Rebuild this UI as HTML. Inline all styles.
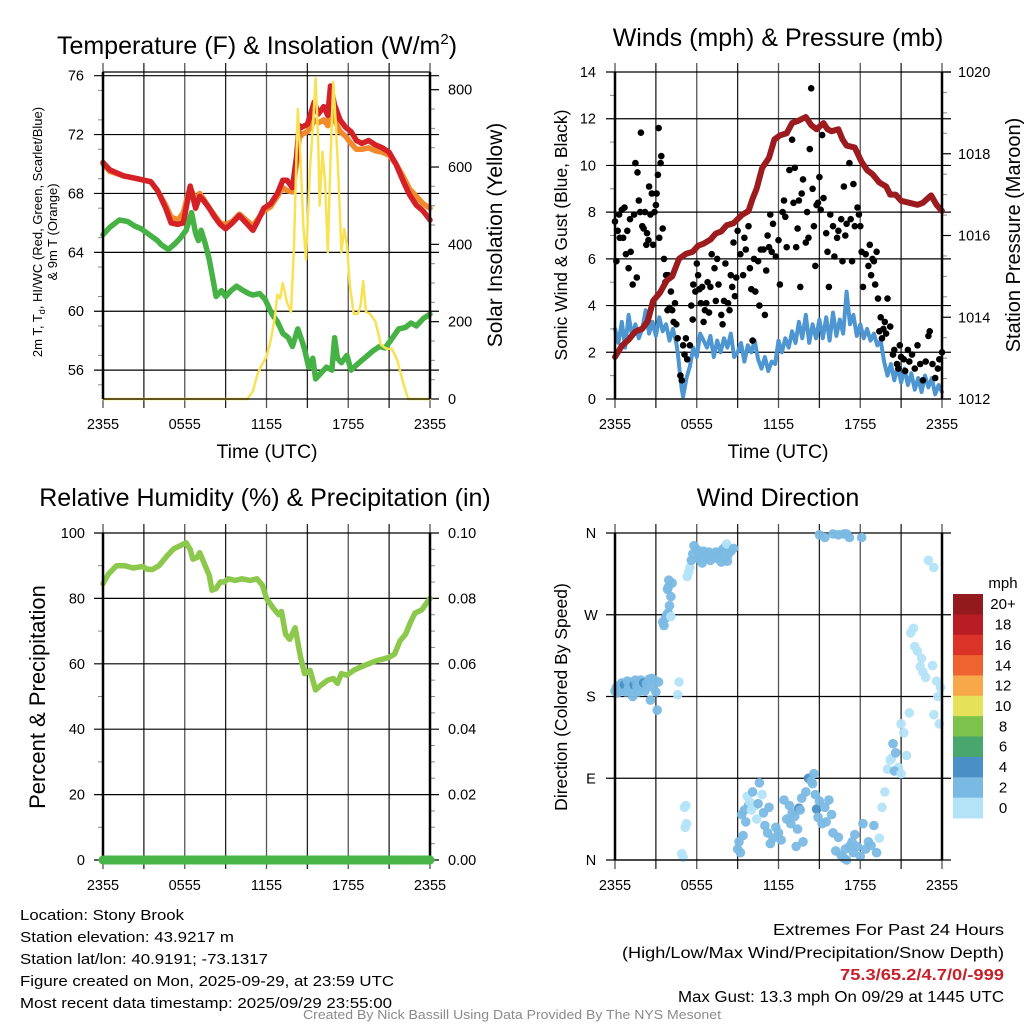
<!DOCTYPE html>
<html><head><meta charset="utf-8"><style>
html,body{margin:0;padding:0;background:#fff;}
svg{display:block;font-family:"Liberation Sans",sans-serif;}
</style></head><body>
<svg id="fig" width="1024" height="1024" viewBox="0 0 1024 1024" xmlns="http://www.w3.org/2000/svg">
<rect width="1024" height="1024" fill="#fff"/>
</svg>
<script>
// ---------- DATA ----------
const timeTickLabels = ["2355","0555","1155","1755","2355"];
const tempTicks = [56,60,64,68,72,76];
const solarTicks = [0,200,400,600,800];
const windTicks = [0,2,4,6,8,10,12,14];
const pressTicks = [1012,1014,1016,1018,1020];
const rhTicks = [0,20,40,60,80,100];
const precipTicks = ["0.00","0.02","0.04","0.06","0.08","0.10"];
const dirTicks = ["N","E","S","W","N"];
const speedBins = ["0","2","4","6","8","10","12","14","16","18","20+"];
const speedColors = ["#b4e3f8","#7ab9e3","#4a8fc6","#49a66c","#7cc24b","#e6e15b","#f7a848","#ee6330","#db3327","#b81c25","#921a1c"];

const tempRed = [[0,70.1],[0.5,69.6],[1.5,69.2],[2.5,69.0],[3.5,68.8],[4.0,68.2],[4.6,67.0],[5.0,66.0],[5.5,65.9],[5.9,66.0],[6.2,67.5],[6.4,68.5],[6.8,67.0],[7.1,67.8],[7.4,67.5],[7.8,67.0],[8.2,66.4],[8.6,65.9],[9.0,65.6],[9.5,66.0],[10.0,66.5],[10.5,66.0],[11.0,65.5],[11.4,66.2],[11.8,67.0],[12.3,67.3],[12.8,68.0],[13.2,68.9],[13.5,68.9],[13.9,68.4],[14.2,70.5],[14.4,72.6],[14.6,72.5],[15.0,72.7],[15.3,73.6],[15.5,74.2],[15.8,73.4],[16.2,73.9],[16.5,73.3],[16.7,75.3],[17.0,74.0],[17.4,73.0],[17.8,72.5],[18.2,72.2],[18.6,71.6],[19.0,71.4],[19.5,71.6],[20.0,71.3],[20.5,71.1],[21.0,70.8],[21.5,70.0],[22.0,68.9],[22.5,67.9],[23.0,67.2],[23.5,66.8],[24,66.2]];
const tempOrange = [[0,70.0],[0.5,69.5],[1.5,69.2],[2.5,69.0],[3.5,68.8],[4.0,68.2],[4.6,67.2],[5.0,66.4],[5.5,66.2],[5.9,66.7],[6.2,67.8],[6.4,68.4],[6.8,67.6],[7.1,68.0],[7.4,67.6],[7.8,67.0],[8.2,66.5],[8.6,66.0],[9.0,65.9],[9.5,66.1],[10.0,66.6],[10.5,66.2],[11.0,65.8],[11.4,66.3],[11.8,66.8],[12.3,67.1],[12.8,67.8],[13.2,68.4],[13.5,68.2],[13.9,68.1],[14.2,70.0],[14.4,71.8],[14.6,72.0],[15.0,72.2],[15.3,72.6],[15.5,73.0],[15.8,72.8],[16.2,73.0],[16.5,72.6],[16.7,74.0],[17.0,73.0],[17.4,72.2],[17.8,71.9],[18.2,71.4],[18.6,71.0],[19.0,71.0],[19.5,71.1],[20.0,70.9],[20.5,70.8],[21.0,70.6],[21.5,70.0],[22.0,69.2],[22.5,68.3],[23.0,67.8],[23.5,67.3],[24,67.0]];
const dewGreen = [[0,65.2],[0.5,65.7],[1.2,66.2],[1.8,66.1],[2.3,65.8],[2.8,65.6],[3.4,65.2],[4.0,64.8],[4.3,64.5],[4.8,64.2],[5.3,64.6],[5.7,65.0],[6.1,65.5],[6.5,66.7],[6.8,65.3],[7.0,64.8],[7.2,65.5],[7.5,64.6],[7.8,63.5],[8.1,62.0],[8.3,61.0],[8.7,61.4],[9.0,61.0],[9.4,61.4],[9.8,61.7],[10.3,61.4],[10.7,61.2],[11.0,61.1],[11.5,61.2],[11.9,60.8],[12.4,59.8],[12.8,59.3],[13.2,58.5],[13.6,58.2],[13.9,57.6],[14.3,58.8],[14.6,58.0],[14.8,57.4],[15.1,56.2],[15.4,56.8],[15.6,55.4],[16.0,55.8],[16.4,56.2],[16.8,56.0],[17.0,58.2],[17.2,56.8],[17.5,56.5],[17.9,57.0],[18.2,56.0],[18.8,56.5],[19.3,56.9],[19.8,57.3],[20.3,57.6],[20.7,57.5],[21.1,58.0],[21.7,58.8],[22.2,58.9],[22.6,59.2],[23.0,59.0],[23.5,59.5],[24,59.8]];
const solar = [[0,0],[10.6,0],[11.0,20],[11.3,60],[11.6,85],[12.0,110],[12.3,150],[12.6,210],[12.8,270],[13.0,260],[13.2,300],[13.5,250],[13.8,225],[14.0,380],[14.3,750],[14.5,620],[14.7,450],[14.9,360],[15.2,600],[15.4,700],[15.6,830],[15.8,660],[15.9,500],[16.1,640],[16.3,560],[16.5,380],[16.7,620],[16.9,820],[17.1,700],[17.3,560],[17.5,380],[17.7,440],[17.9,400],[18.1,300],[18.4,220],[18.7,220],[18.9,240],[19.1,305],[19.3,225],[19.6,220],[20.0,200],[20.4,140],[20.8,130],[21.2,130],[21.6,100],[22.0,45],[22.4,0],[24,0]];

const pressure = [[0,1013.03],[0.5,1013.3],[1.0,1013.45],[1.5,1013.65],[2.0,1013.72],[2.4,1013.9],[2.8,1014.4],[3.3,1014.6],[3.8,1014.9],[4.2,1015.0],[4.7,1015.43],[5.2,1015.55],[5.7,1015.6],[6.1,1015.75],[6.5,1015.8],[7.0,1015.9],[7.4,1016.05],[7.8,1016.1],[8.2,1016.25],[8.7,1016.3],[9.3,1016.5],[9.8,1016.6],[10.1,1016.9],[10.4,1017.15],[10.8,1017.65],[11.3,1017.9],[11.7,1018.35],[12.1,1018.45],[12.6,1018.5],[13.0,1018.75],[13.4,1018.8],[14.0,1018.9],[14.4,1018.7],[14.8,1018.6],[15.3,1018.75],[15.6,1018.6],[15.9,1018.55],[16.4,1018.6],[16.7,1018.35],[17.0,1018.2],[17.6,1018.15],[18.1,1017.8],[18.5,1017.6],[18.9,1017.5],[19.4,1017.3],[19.9,1017.2],[20.2,1017.0],[20.6,1017.0],[21.0,1016.85],[21.6,1016.8],[22.2,1016.75],[22.6,1016.8],[23.2,1016.98],[23.6,1016.75],[24,1016.6]];
const windSpeed = [[0,3.0],[0.25,2.4],[0.5,3.3],[0.75,2.2],[1,3.6],[1.25,2.7],[1.5,3.2],[1.75,2.6],[2,3.0],[2.25,3.8],[2.5,2.8],[2.75,3.3],[3,2.7],[3.25,3.5],[3.5,2.9],[3.75,3.2],[4,2.5],[4.25,3.0],[4.5,2.4],[4.6,2.0],[4.75,1.2],[4.9,0.4],[5.0,0.1],[5.25,0.9],[5.5,1.4],[5.75,2.2],[6,1.8],[6.25,2.8],[6.5,2.5],[6.75,2.2],[7,2.7],[7.25,1.8],[7.5,2.5],[7.75,2.0],[8,2.6],[8.25,2.2],[8.5,2.8],[8.75,1.8],[9,2.0],[9.25,2.4],[9.5,1.6],[9.75,2.3],[10,2.0],[10.25,2.5],[10.5,1.7],[10.75,1.3],[11,1.8],[11.25,1.2],[11.5,1.6],[11.75,1.5],[12,2.5],[12.25,2.0],[12.5,2.6],[12.75,2.2],[13,2.9],[13.25,2.4],[13.5,3.3],[13.75,2.6],[14,3.6],[14.25,2.4],[14.5,3.2],[14.75,2.6],[15,3.4],[15.25,2.6],[15.5,3.5],[15.75,2.5],[16,3.7],[16.25,2.7],[16.5,3.4],[16.75,2.8],[17,4.6],[17.25,3.2],[17.5,3.6],[17.75,2.7],[18,3.2],[18.25,2.6],[18.5,3.0],[18.75,2.5],[19,2.8],[19.25,2.3],[19.5,2.5],[19.75,1.6],[20,1.0],[20.25,1.5],[20.5,0.8],[20.75,1.4],[21,0.7],[21.25,1.3],[21.5,0.6],[21.75,1.1],[22,0.4],[22.25,0.9],[22.5,0.3],[22.75,1.0],[23,0.5],[23.25,0.9],[23.5,0.2],[23.75,0.6],[24,0.3]];
const gusts = [[0,7.6],[0.1,5.9],[0.2,7.2],[0.3,7.9],[0.35,6.9],[0.5,8.1],[0.6,6.9],[0.7,8.2],[0.8,6.2],[0.9,7.2],[1.0,5.6],[1.1,7.7],[1.15,6.3],[1.3,4.9],[1.4,7.9],[1.5,10.1],[1.6,5.2],[1.65,9.7],[1.75,8.5],[1.85,8.0],[1.9,11.4],[2.0,7.4],[2.1,7.3],[2.2,8.0],[2.3,6.6],[2.35,7.1],[2.45,6.8],[2.5,9.1],[2.6,7.9],[2.7,8.8],[2.8,6.6],[2.9,8.0],[3.0,8.3],[3.05,8.8],[3.15,9.6],[3.2,11.6],[3.25,6.9],[3.35,10.1],[3.4,10.4],[3.5,7.3],[3.6,6.0],[3.7,5.0],[3.75,5.3],[3.85,3.8],[3.9,5.3],[4.0,3.9],[4.1,4.6],[4.2,3.8],[4.3,3.3],[4.4,4.1],[4.5,3.2],[4.6,2.6],[4.8,1.0],[4.9,0.8],[5.0,2.3],[5.1,1.9],[5.2,2.6],[5.3,1.7],[5.5,2.3],[5.6,4.0],[5.7,3.4],[5.75,4.9],[5.9,4.6],[6.0,5.8],[6.1,5.3],[6.2,4.7],[6.3,4.1],[6.4,4.8],[6.5,3.3],[6.6,3.8],[6.7,4.1],[6.8,5.0],[6.9,3.7],[7.0,4.8],[7.1,6.2],[7.3,5.6],[7.4,4.2],[7.5,6.0],[7.6,4.9],[7.8,3.6],[7.9,3.2],[8.0,4.2],[8.1,5.8],[8.3,4.1],[8.4,3.8],[8.5,5.3],[8.6,4.8],[8.7,6.7],[8.8,4.4],[8.9,5.2],[9.0,7.2],[9.2,6.2],[9.4,5.3],[9.5,6.9],[9.6,6.4],[9.8,7.4],[9.9,5.6],[10.0,4.7],[10.1,2.5],[10.2,6.0],[10.3,4.6],[10.5,5.9],[10.6,4.0],[10.7,6.4],[10.9,6.4],[11.0,3.6],[11.1,5.5],[11.2,7.0],[11.3,6.5],[11.4,7.9],[11.5,6.3],[11.6,7.5],[11.8,6.1],[12.0,6.8],[12.1,4.9],[12.3,8.0],[12.4,8.5],[12.5,7.8],[12.6,6.5],[12.8,9.8],[13.0,11.1],[13.1,8.4],[13.2,9.9],[13.3,6.5],[13.4,7.3],[13.5,8.5],[13.6,4.8],[13.7,8.8],[13.8,9.4],[14.0,6.7],[14.1,8.0],[14.2,6.9],[14.3,10.7],[14.4,13.3],[14.5,9.0],[14.6,7.4],[14.7,5.7],[14.8,8.3],[14.9,8.4],[15.0,9.5],[15.1,8.1],[15.2,11.3],[15.3,8.6],[15.5,7.1],[15.6,6.3],[15.7,4.8],[15.8,7.9],[16.0,7.4],[16.1,6.1],[16.3,6.9],[16.4,7.2],[16.6,7.7],[16.7,5.9],[16.8,9.1],[16.9,7.0],[17.0,7.5],[17.2,10.1],[17.3,7.7],[17.4,5.9],[17.5,9.2],[17.6,7.4],[17.8,8.2],[17.9,7.9],[18.0,7.4],[18.1,6.3],[18.2,4.8],[18.4,6.2],[18.6,5.7],[18.7,6.6],[18.8,5.3],[18.9,6.0],[19.0,5.9],[19.1,4.9],[19.2,6.3],[19.3,4.3],[19.4,2.9],[19.5,3.5],[19.6,2.6],[19.7,3.0],[19.8,3.3],[19.9,2.8],[20.0,4.3],[20.2,3.1],[20.4,1.9],[20.5,2.1],[20.7,1.5],[20.8,1.3],[20.9,2.3],[21.0,1.8],[21.2,1.7],[21.3,1.2],[21.5,2.1],[21.6,1.6],[21.8,1.9],[22.0,1.3],[22.2,2.3],[22.4,1.5],[22.6,0.8],[22.8,1.6],[23.0,2.7],[23.1,2.9],[23.3,1.5],[23.5,0.9],[23.7,1.3],[23.8,1.7],[24,2.0]];

const relHum = [[0,84.5],[0.4,87.5],[1.0,90],[1.6,90],[2.2,89.3],[2.9,89.8],[3.2,89],[3.6,88.8],[4.1,90],[4.7,93],[5.2,95.2],[5.6,96],[6.1,97],[6.4,95],[6.6,92],[6.9,92.5],[7.1,94],[7.5,90],[7.8,87],[8.0,82.5],[8.3,83],[8.6,85],[8.9,85],[9.2,86],[9.7,85.5],[10.2,86],[10.8,85.5],[11.3,86],[11.7,84],[12.0,80],[12.5,77],[12.9,75],[13.1,76],[13.4,69],[13.7,67.5],[14.1,71],[14.5,62],[14.8,57],[15.2,58],[15.6,52],[16.0,53.5],[16.5,55],[16.9,55.5],[17.2,54],[17.5,57],[17.9,56.5],[18.4,58],[18.9,59],[19.5,60],[20.1,61],[20.6,61.5],[21.0,62],[21.4,63],[21.8,67],[22.2,69],[22.6,73],[22.9,75.5],[23.4,76.5],[24,80]];
const precip = [[0,0],[24,0]];

const windDir = [[0,186,2],[0.1,190,3],[0.2,184,2],[0.3,192,3],[0.4,187,2],[0.5,195,3],[0.6,189,2],[0.7,193,4],[0.8,185,3],[0.9,197,2],[1.0,190,3],[1.1,188,2],[1.2,196,3],[1.3,180,2],[1.4,193,4],[1.5,198,2],[1.6,191,3],[1.7,185,2],[1.8,194,3],[1.9,198,2],[2.0,190,3],[2.1,195,4],[2.2,186,2],[2.3,194,3],[2.5,199,2],[2.6,176,3],[2.7,200,2],[2.8,190,3],[2.9,198,2],[3.0,185,2],[3.1,165,3],[3.2,196,2],[4.7,196,1],[4.6,182,1],
[3.5,262,2],[3.6,258,2],[3.7,266,2],[3.8,270,2],[3.9,272,2],[4.0,280,2],[4.1,268,1],[4.1,290,2],[3.9,300,2],[4.2,305,2],[3.85,298,2],[3.95,308,2],
[5.3,312,1],[5.4,317,1],[5.5,322,1],[5.6,330,2],[5.7,337,2],[5.8,346,2],[6.0,342,2],[6.1,332,2],[6.2,337,2],[6.4,327,2],[6.5,340,2],[6.6,332,2],[6.8,334,2],[6.9,339,2],[7.0,330,2],[7.2,336,2],[7.4,339,2],[7.5,332,2],[7.6,338,2],[7.8,328,2],[7.9,342,2],[8.0,333,2],[8.1,345,2],[8.3,336,2],[8.5,340,2],[8.2,348,1],[8.25,329,2],[8.7,343,2],
[5.1,58,1],[5.2,60,1],[5.15,36,1],[5.25,40,1],[4.9,7,1],[5.0,3,1],
[9.0,12,2],[9.1,20,2],[9.2,8,2],[9.3,50,2],[9.4,27,2],[9.5,55,2],[9.6,42,2],[9.7,70,1],[9.8,60,2],[9.9,64,1],[10.0,55,1],[10.1,75,2],[10.3,60,1],[10.4,45,1],[10.5,62,2],[10.6,85,2],[10.8,72,1],[10.9,52,2],[11.0,38,2],[11.2,30,2],[11.3,58,2],[11.4,18,2],[11.6,24,2],[11.8,36,2],[12.0,30,2],[12.2,22,2],[12.4,66,2],[12.6,45,2],[12.8,60,3],[12.9,40,2],[13.0,52,2],[13.2,48,2],[13.3,15,2],[13.4,34,2],[13.5,57,4],[13.6,55,2],[13.7,68,2],[13.8,20,2],[14.0,75,2],[14.2,90,4],[14.4,87,3],[14.5,84,3],[14.6,95,2],[14.7,72,3],[14.8,56,4],[14.9,47,2],[15.0,65,2],[15.2,40,3],[15.4,58,2],[15.5,42,2],[15.7,66,2],[15.9,50,3],[16.0,30,2],[16.2,10,2],[16.4,25,3],[16.6,5,2],[16.8,2,3],[16.9,12,2],[17.0,0,3],[17.2,15,2],[17.4,20,2],[17.5,8,2],[17.6,28,2],[17.8,15,2],[18.0,4,2],[18.2,40,2],[18.4,12,2],[18.6,20,2],[18.8,16,2],[19.0,38,2],[19.2,8,2],[19.4,24,1],[19.6,58,1],[19.8,75,1],[20.0,100,1],[20.2,110,1],[20.4,128,3],[20.3,112,1],[20.6,118,2],[20.8,102,1],[20.5,98,2],[21.0,95,1],[21.0,150,1],[21.2,140,1],[21.4,115,1],[21.6,162,1],[21.7,250,1],[21.9,255,1],[22.0,235,1],[22.2,230,1],[22.4,213,1],[22.5,222,1],[22.6,207,1],[22.8,201,1],[23.0,330,1],[23.4,322,1],[23.3,214,1],[23.6,197,1],[23.7,180,1],[23.8,150,1],[23.9,190,1],[23.4,160,1],
[15.0,358,2],[15.4,355,2],[16.0,359,3],[16.4,358,2],[16.8,359,3],[17.0,359,2],[17.2,355,3],[18.1,355,3]];

// ---------- DRAWING ----------
const NS = "http://www.w3.org/2000/svg";
const svg = document.getElementById("fig");
function mk(tag, attrs, parent){
  const e = document.createElementNS(NS, tag);
  for (const k in attrs) e.setAttribute(k, attrs[k]);
  (parent || svg).appendChild(e);
  return e;
}
function txt(s, x, y, size, anchor, parent, extra){
  const t = mk("text", Object.assign({x:x, y:y, "font-size":size, "text-anchor":anchor||"middle", fill:"#000"}, extra||{}), parent);
  t.textContent = s;
  return t;
}
function panel(name, xL, xR, yT, yB){
  const g = mk("g", {});
  
  
  return {g, xL, xR, yT, yB, sx: h => xL + h/24*(xR-xL)};
}
function frame(p){
  for (let i=0;i<=8;i++){
    const x = p.sx(i*3);
    const l = mk("line",{x1:x,x2:x,y1:p.yT-9,y2:p.yB+9,stroke:(i%2?"#222":"#555"),"stroke-width":1.3},p.g);
    
    
  }
  for (let i=0;i<timeTickLabels.length;i++){
    const t = txt(timeTickLabels[i], p.sx(i*6), p.yB+30, 14.5, "middle", p.g);
    
    
  }
}
function hgrid(p, y, ext){
  const l = mk("line",{x1:p.xL-ext,x2:p.xR+ext,y1:y,y2:y,stroke:"#000","stroke-width":1.2},p.g);
  
  
}
function minorL(p,y){ mk("line",{x1:p.xL-5,x2:p.xL,y1:y,y2:y,stroke:"#888","stroke-width":1},p.g); }
function minorR(p,y){ mk("line",{x1:p.xR,x2:p.xR+5,y1:y,y2:y,stroke:"#888","stroke-width":1},p.g); }
function border(p){
  mk("line",{x1:p.xL,x2:p.xL,y1:p.yT,y2:p.yB,stroke:"#000","stroke-width":2.5},p.g);
  mk("line",{x1:p.xR,x2:p.xR,y1:p.yT,y2:p.yB,stroke:"#000","stroke-width":2.5},p.g);
  mk("line",{x1:p.xL,x2:p.xR,y1:p.yB,y2:p.yB,stroke:"#000","stroke-width":1.3},p.g);
}
function path(p, data, fx, fy, color, w, name){
  const d = data.map((q,i)=>(i?"L":"M")+fx(q[0]).toFixed(1)+","+fy(q[1]).toFixed(1)).join("");
  const e = mk("path",{d:d,fill:"none",stroke:color,"stroke-width":w,"stroke-linejoin":"round","stroke-linecap":"round"},p.g);
  
  
  return e;
}
function rotTitle(s, x, y, size, name, parent){
  const t = txt(s, x, y, size, "middle", parent, {transform:"rotate(-90 "+x+" "+y+")"});
  
  
  return t;
}

// ===== Panel 1: Temperature =====
const p1 = panel("temperature-panel",103,430,72,399);
const ty = t => 75.7 - (t-76)*14.72;
const sy = w => 399 - w*(309.3/800);
frame(p1);
mk("line",{x1:p1.xL,x2:p1.xR,y1:72,y2:72,stroke:"#000","stroke-width":1.2},p1.g);
for (const t of tempTicks){
  hgrid(p1, ty(t), 9);
  const l = txt(String(t), 84, ty(t)+5, 14.5, "end", p1.g);
  
  
}
for (let t=55;t<=75;t+=2) minorL(p1, ty(t));
for (const w of solarTicks){
  mk("line",{x1:p1.xR,x2:p1.xR+9,y1:sy(w),y2:sy(w),stroke:"#000","stroke-width":1.2},p1.g);
  const l = txt(String(w), 448, sy(w)+5, 14.5, "start", p1.g);
  
  
}
for (let w=50;w<=800;w+=50) if (w%200) minorR(p1, sy(w));
path(p1, tempOrange, p1.sx, ty, "#f08a2c", 5.5, "temperature-9m-line");
path(p1, tempRed, p1.sx, ty, "#d42027", 5.5, "temperature-2m-line");
path(p1, dewGreen, p1.sx, ty, "#46b245", 5.5, "dewpoint-line");
path(p1, solar, p1.sx, sy, "#f8e253", 2.5, "solar-insolation-line");
border(p1);
{
  const t = txt("Temperature (F) & Insolation (W/m", 257, 54, 25, "middle", svg);
  const s = mk("tspan",{dy:-10,"font-size":15},t); s.textContent="2";
  const s2 = mk("tspan",{dy:10},t); s2.textContent=")";
  
  
}
{
  const t = mk("text",{x:42,y:232,"font-size":13,"text-anchor":"middle",transform:"rotate(-90 42 232)"});
  t.textContent = "2m T, T";
  const sub = mk("tspan",{dy:3,"font-size":9},t); sub.textContent="d";
  const r = mk("tspan",{dy:-3},t); r.textContent=", HI/WC (Red, Green, Scarlet/Blue)";
  
  
}
rotTitle("& 9m T (Orange)", 57, 232, 13, "temperature-axis-title-line2", svg);
rotTitle("Solar Insolation (Yellow)", 502, 235, 21, "solar-axis-title", svg);
{ const t = txt("Time (UTC)", 267, 458, 19.5, "middle");   }

// ===== Panel 2: Winds =====
const p2 = panel("winds-panel",615,942,72,399);
const wy = v => 399 - v*(327/14);
const py = m => 399 - (m-1012)*(327/8);
frame(p2);
for (const v of windTicks){
  hgrid(p2, wy(v), 9);
  const l = txt(String(v), 596, wy(v)+5, 14.5, "end", p2.g);
  
  
}
for (let v=1;v<14;v+=2) minorL(p2, wy(v));
for (const m of pressTicks){
  mk("line",{x1:p2.xR,x2:p2.xR+9,y1:py(m),y2:py(m),stroke:"#000","stroke-width":1.2},p2.g);
  const l = txt(String(m), 958, py(m)+5, 14.5, "start", p2.g);
  
  
}
for (let m=1012.5;m<1020;m+=0.5) if (m%2) minorR(p2, py(m));
path(p2, windSpeed, p2.sx, wy, "#4d96d2", 4, "sonic-wind-line");
for (const q of gusts){
  const c = mk("circle",{cx:p2.sx(q[0]).toFixed(1),cy:wy(q[1]).toFixed(1),r:3.3,fill:"#000"},p2.g);
  
  
}
path(p2, pressure, p2.sx, py, "#9b1b1f", 6, "pressure-line");
border(p2);
{ const t = txt("Winds (mph) & Pressure (mb)", 778, 46, 25, "middle");   }
rotTitle("Sonic Wind & Gust (Blue, Black)", 567, 235, 17.5, "wind-axis-title", svg);
rotTitle("Station Pressure (Maroon)", 1020, 235, 20, "pressure-axis-title", svg);
{ const t = txt("Time (UTC)", 778, 458, 19.5, "middle");   }

// ===== Panel 3: RH =====
const p3 = panel("humidity-panel",103,430,533,860);
const ry = r => 860 - r*3.27;
frame(p3);
for (let i=0;i<rhTicks.length;i++){
  const r = rhTicks[i];
  hgrid(p3, ry(r), 9);
  const l = txt(String(r), 85, ry(r)+5, 14.5, "end", p3.g);
  
  
  const l2 = txt(precipTicks[i], 448, ry(r)+5, 14.5, "start", p3.g);
  
  
}
for (let r=10;r<100;r+=20){ minorL(p3, ry(r)); }
for (let r=5;r<100;r+=5) if (r%20) minorR(p3, ry(r));
path(p3, relHum, p3.sx, ry, "#8cc84b", 5.5, "humidity-line");
border(p3);
path(p3, precip, p3.sx, v => ry(v*1000), "#48b448", 9, "precipitation-line");
{ const t = txt("Relative Humidity (%) & Precipitation (in)", 265, 506, 25, "middle");   }
rotTitle("Percent & Precipitation", 45, 697, 22, "humidity-axis-title", svg);

// ===== Panel 4: Wind direction =====
const p4 = panel("wind-direction-panel",615,942,533,860);
const dy = d => 860 - d*(327/360);
frame(p4);
for (let i=0;i<dirTicks.length;i++){
  const d = i*90;
  hgrid(p4, dy(d), 9);
  const l = txt(dirTicks[i], 591, dy(d)+5, 14.5, "middle", p4.g);
  
  
}
for (const q of windDir){
  const bin = Math.min(10, Math.floor(q[2]/2));
  const c = mk("circle",{cx:p4.sx(q[0]).toFixed(1),cy:dy(q[1]).toFixed(1),r:4.8,fill:speedColors[bin],"fill-opacity":0.95},p4.g);
  
  
}
border(p4);
{ const t = txt("Wind Direction", 778, 506, 25, "middle");   }
rotTitle("Direction (Colored By Speed)", 567, 697, 17.5, "direction-axis-title", svg);

// legend
const lg = mk("g",{});


txt("mph", 1003, 588, 15, "middle", lg);
const boxH = (818-594)/speedBins.length;
for (let i=0;i<speedBins.length;i++){
  const k = speedBins.length-1-i;
  const y = 594 + i*boxH;
  const r = mk("rect",{x:953,y:y.toFixed(1),width:30,height:(boxH+0.5).toFixed(1),fill:speedColors[k]},lg);
  
  
  const t = txt(speedBins[k], 1003, y+boxH/2+5, 15, "middle", lg);
  
  
}

// footer text
const ft = mk("g",{});


const leftLines = [["Location: Stony Brook",164],["Station elevation: 43.9217 m",214],["Station lat/lon: 40.9191; -73.1317",248],["Figure created on Mon, 2025-09-29, at 23:59 UTC",374],["Most recent data timestamp: 2025/09/29 23:55:00",372]];
leftLines.forEach((L,i)=>{ txt(L[0], 20, 920+i*22, 15, "start", ft, {textLength:L[1],lengthAdjust:"spacingAndGlyphs"}); });
const ex = mk("g",{});


txt("Extremes For Past 24 Hours", 1004, 935, 15.5, "end", ex, {textLength:231,lengthAdjust:"spacingAndGlyphs"});
txt("(High/Low/Max Wind/Precipitation/Snow Depth)", 1004, 958, 15.5, "end", ex, {textLength:382,lengthAdjust:"spacingAndGlyphs"});
txt("75.3/65.2/4.7/0/-999", 1004, 980, 15.5, "end", ex, {textLength:164,lengthAdjust:"spacingAndGlyphs",fill:"#c8202a","font-weight":"bold"});
txt("Max Gust: 13.3 mph On 09/29 at 1445 UTC", 1004, 1002, 15.5, "end", ex, {textLength:326,lengthAdjust:"spacingAndGlyphs"});
{ const t = txt("Created By Nick Bassill Using Data Provided By The NYS Mesonet", 512, 1019, 12.5, "middle", svg, {fill:"#8a8a8a",textLength:418,lengthAdjust:"spacingAndGlyphs"});   }
</script>
</body></html>
